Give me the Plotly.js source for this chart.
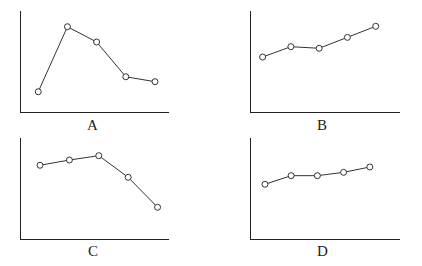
<!DOCTYPE html>
<html>
<head>
<meta charset="utf-8">
<script src="https://cdn.plot.ly/plotly-3.0.1.min.js"></script>
<style>html,body{margin:0;padding:0;background:#fff;}#chart{width:422px;height:266px;}</style>
</head>
<body>
<div id="chart"></div>
<script>
const xs = [1, 2, 3, 4, 5];
const seriesA = [2.03, 8.45, 6.94, 3.51, 3.02];
const seriesB = [5.46, 6.48, 6.32, 7.40, 8.49];
const seriesC = [7.30, 7.82, 8.25, 6.11, 3.14];
const seriesD = [5.42, 6.27, 6.27, 6.60, 7.13];
const panelLabels = ['A', 'B', 'C', 'D'];

const lineColor = '#333';
function trace(y, xa, ya) {
  return {
    x: xs, y: y, xaxis: xa, yaxis: ya, type: 'scatter', mode: 'lines+markers',
    line: {color: lineColor, width: 1},
    marker: {symbol: 'circle', size: 6, color: '#fff', line: {color: lineColor, width: 1}},
    hoverinfo: 'none', cliponaxis: false
  };
}
const data = [
  trace(seriesA, 'x', 'y'),
  trace(seriesB, 'x2', 'y2'),
  trace(seriesC, 'x3', 'y3'),
  trace(seriesD, 'x4', 'y4')
];
function xax(domain, range, anchor) {
  return {domain: domain, range: range, anchor: anchor, showline: true, linecolor: '#222', linewidth: 1,
    showgrid: false, zeroline: false, showticklabels: false, ticks: ''};
}
function yax(domain, anchor) {
  return {domain: domain, range: [0, 10], anchor: anchor, showline: true, linecolor: '#222', linewidth: 1,
    showgrid: false, zeroline: false, showticklabels: false, ticks: ''};
}
const leftX = [0.0505, 0.4012], rightX = [0.5955, 0.9472];
const topY = [0.5778, 0.9586], botY = [0.1015, 0.4812];
const labelFont = {family: 'Liberation Serif, Times New Roman, serif', size: 15, color: '#222'};
const labelPos = [[0.2197, 0.530], [0.763, 0.530], [0.2197, 0.0575], [0.7647, 0.0575]];
const layout = {
  width: 422, height: 266, margin: {l: 0, r: 0, t: 0, b: 0},
  paper_bgcolor: '#fff', plot_bgcolor: '#fff', showlegend: false,
  xaxis: xax(leftX, [0.42, 5.49], 'y'),
  yaxis: yax(topY, 'x'),
  xaxis2: xax(rightX, [0.60, 5.85], 'y2'),
  yaxis2: yax(topY, 'x2'),
  xaxis3: xax(leftX, [0.364, 5.40], 'y3'),
  yaxis3: yax(botY, 'x3'),
  xaxis4: xax(rightX, [0.48, 6.14], 'y4'),
  yaxis4: yax(botY, 'x4'),
  annotations: panelLabels.map((t, i) => ({
    text: t, xref: 'paper', yref: 'paper', x: labelPos[i][0], y: labelPos[i][1],
    xanchor: 'center', yanchor: 'middle', showarrow: false, font: labelFont
  }))
};
Plotly.newPlot('chart', data, layout, {staticPlot: true, displayModeBar: false});
</script>
</body>
</html>
